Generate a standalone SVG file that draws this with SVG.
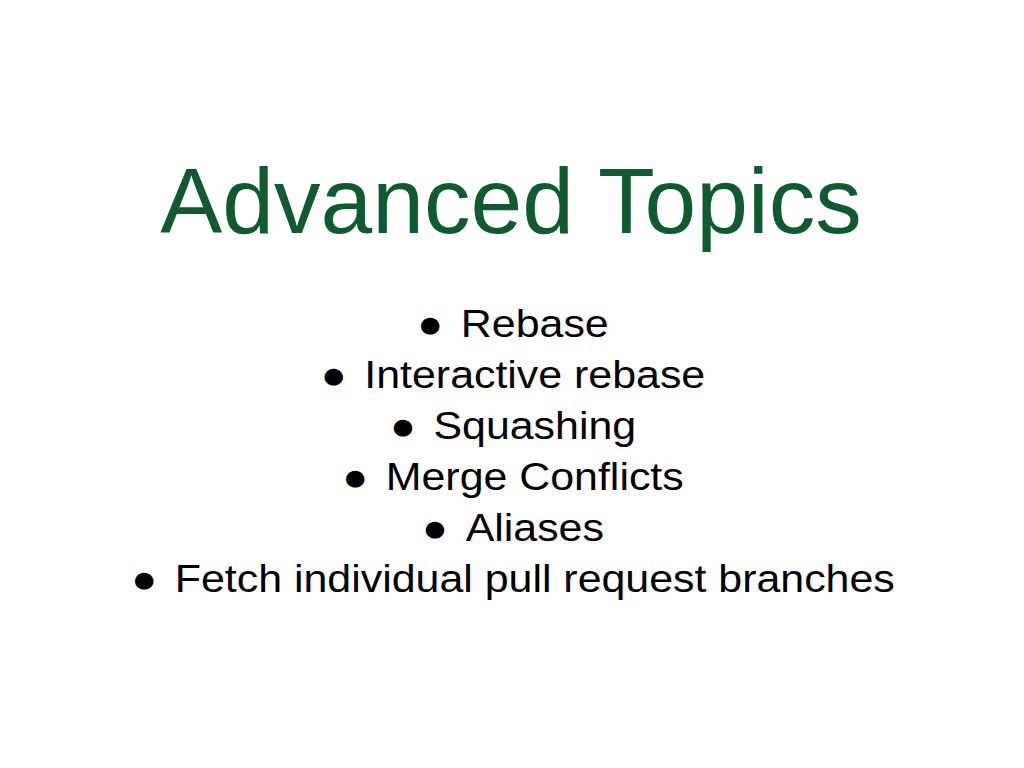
<svg xmlns="http://www.w3.org/2000/svg" width="1024" height="768" viewBox="0 0 1024 768">
<style>
.t{font-family:"Liberation Sans",Arial,sans-serif;fill:#0f5a2e;font-size:93px;text-anchor:middle}
.b{font-family:"Liberation Sans",Arial,sans-serif;fill:#000;font-size:39px;text-anchor:middle}
</style>
<rect width="1024" height="768" fill="#fff"/>
<g id="title"><text class="t" x="511" y="233">Advanced Topics</text></g>
<g id="bullets" transform="translate(513,0) scale(1.1,1)">
<text class="b" x="0" y="337">●<tspan dx="16">Rebase</tspan></text>
<text class="b" x="0" y="388">●<tspan dx="16">Interactive rebase</tspan></text>
<text class="b" x="0" y="439">●<tspan dx="16">Squashing</tspan></text>
<text class="b" x="0" y="490">●<tspan dx="16">Merge Conflicts</tspan></text>
<text class="b" x="0" y="541">●<tspan dx="16">Aliases</tspan></text>
<text class="b" x="0" y="592">●<tspan dx="16">Fetch individual pull request branches</tspan></text>
</g>
</svg>
